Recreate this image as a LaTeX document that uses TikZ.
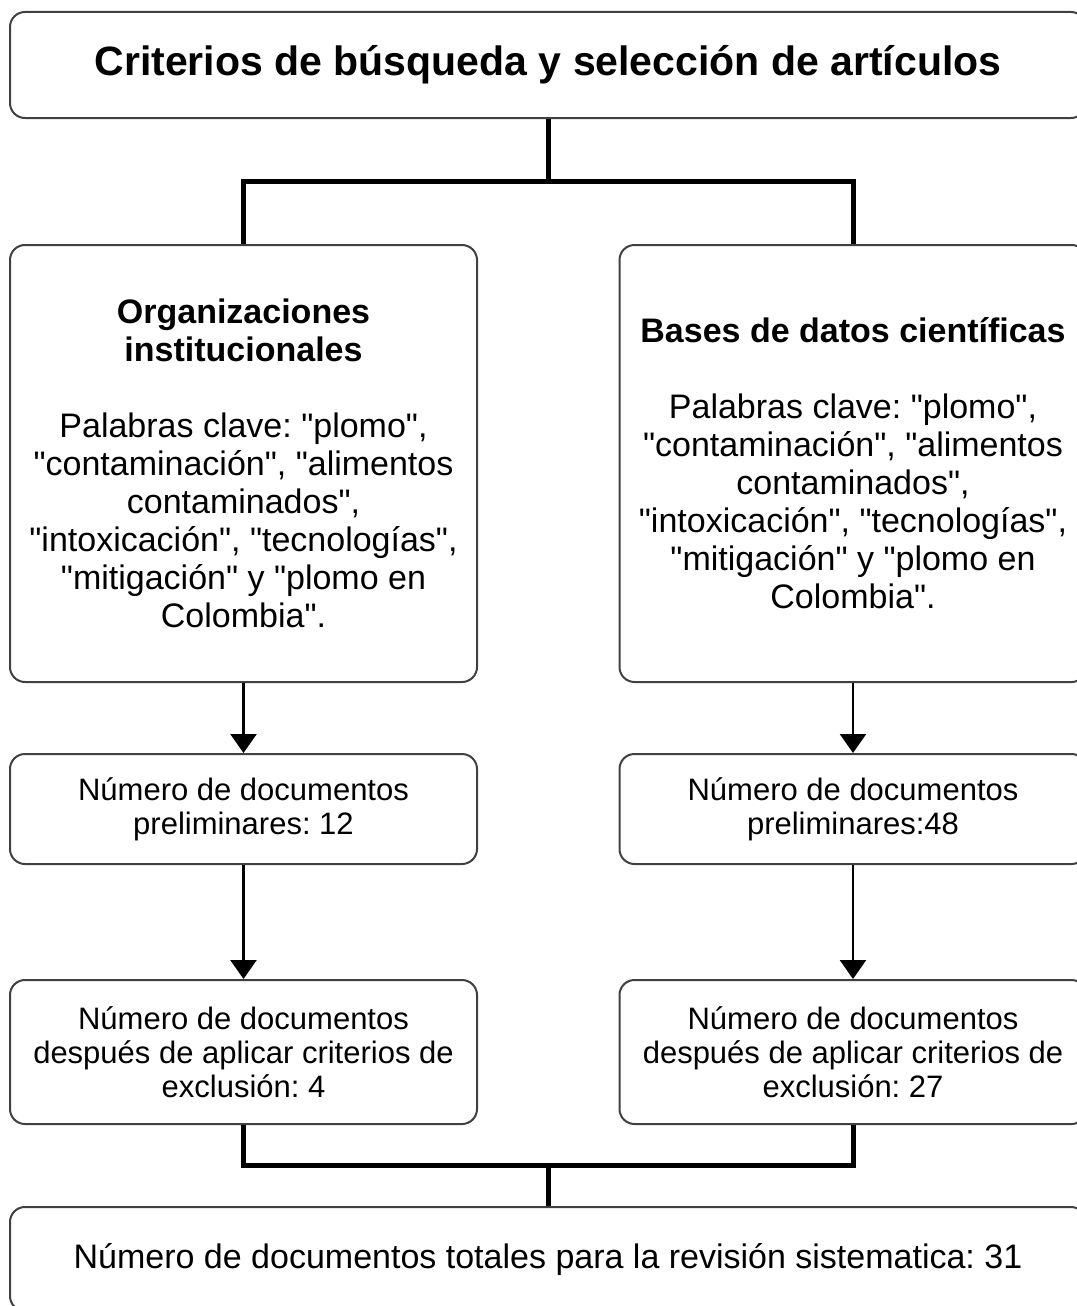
\documentclass[tikz,border=0pt]{standalone}
\usepackage{fontspec}
\setmainfont{Liberation Sans}[Ligatures=TeXOff]
\usetikzlibrary{arrows.meta}
\definecolor{borde}{rgb}{0.25,0.25,0.25}
\newcommand{\encab}[1]{{\fontsize{34}{38}\selectfont\bfseries #1}}
\frenchspacing

\begin{document}
\begin{tikzpicture}[x=1pt, y=-1pt,
    caja/.style={draw=borde, line width=2pt, rounded corners=15pt, align=center, inner sep=0pt},
    flecha/.style={line width=2.5pt, -{Triangle[length=19pt,width=26pt]}},
    union/.style={line width=5pt}]
    \useasboundingbox (0,0) rectangle (1076,1306);

    \node[caja, minimum width=1076pt, minimum height=106pt, font=\fontsize{41}{46}\selectfont\bfseries] (titulo) at (548,65) {Criterios de búsqueda y selección de artículos};

    \node[caja, minimum width=467pt, minimum height=437pt, font=\fontsize{34}{38}\selectfont] (org) at (243.5,463.5)
        {\encab{Organizaciones}\\\encab{institucionales}\\[38pt]Palabras clave: "plomo",\\"contaminación", "alimentos\\contaminados",\\"intoxicación", "tecnologías",\\"mitigación" y "plomo en\\Colombia".};
    \node[caja, minimum width=467pt, minimum height=437pt, font=\fontsize{34}{38}\selectfont] (bases) at (853,463.5)
        {\encab{Bases de datos científicas}\\[38pt]Palabras clave: "plomo",\\"contaminación", "alimentos\\contaminados",\\"intoxicación", "tecnologías",\\"mitigación" y "plomo en\\Colombia".};

    \node[caja, minimum width=467pt, minimum height=110pt, font=\fontsize{31}{34}\selectfont] (prelimA) at (243.5,809) {Número de documentos\\preliminares: 12};
    \node[caja, minimum width=467pt, minimum height=110pt, font=\fontsize{31}{34}\selectfont] (prelimB) at (853,809) {Número de documentos\\preliminares:48};

    \node[caja, minimum width=467pt, minimum height=144pt, font=\fontsize{31}{34}\selectfont] (exclA) at (243.5,1052) {Número de documentos\\después de aplicar criterios de\\exclusión: 4};
    \node[caja, minimum width=467pt, minimum height=144pt, font=\fontsize{31}{34}\selectfont] (exclB) at (853,1052) {Número de documentos\\después de aplicar criterios de\\exclusión: 27};

    \node[caja, minimum width=1076pt, minimum height=104pt, font=\fontsize{34}{38}\selectfont] (total) at (548,1259) {Número de documentos totales para la revisión sistematica: 31};

    \coordinate (divide) at (548,181);
    \coordinate (junta) at (548,1165);

    \draw[union] (titulo.south) -- (divide);
    \draw[union] (org.north) |- (divide) -| (bases.north);

    \draw[flecha] (org) -- (prelimA);
    \draw[flecha] (bases) -- (prelimB);
    \draw[flecha] (prelimA) -- (exclA);
    \draw[flecha] (prelimB) -- (exclB);

    \draw[union] (exclA.south) |- (junta) -| (exclB.south);
    \draw[union] (junta) -- (total.north);
\end{tikzpicture}
\end{document}
